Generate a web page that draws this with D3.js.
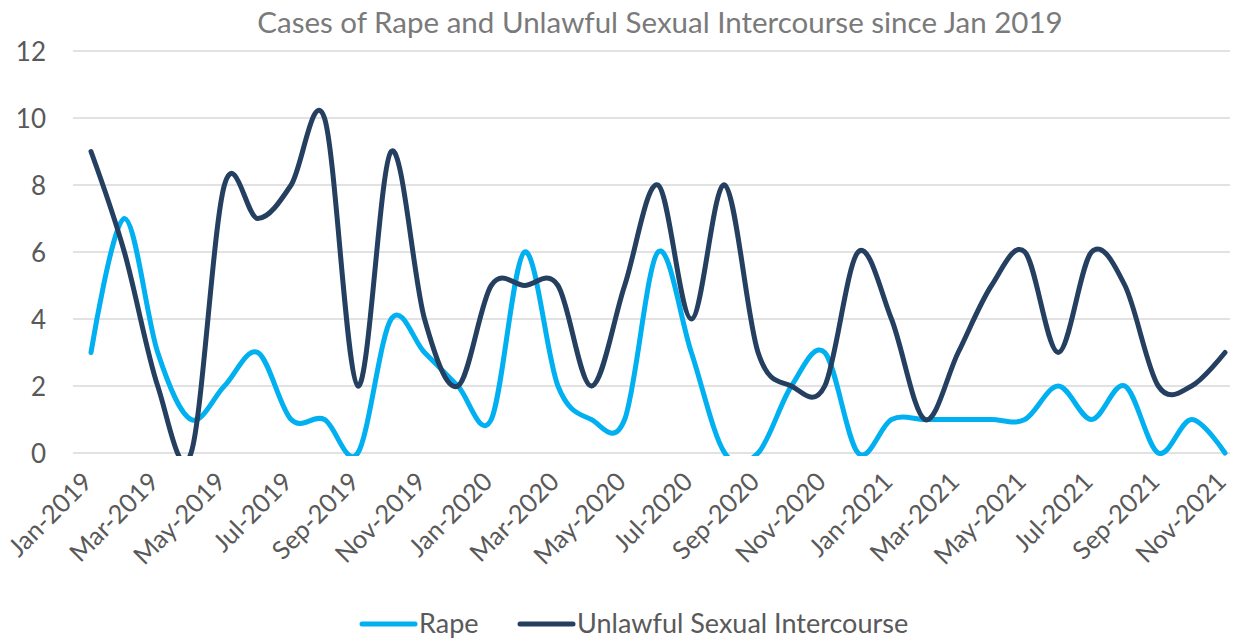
<!DOCTYPE html>
<html>
<head>
<meta charset="utf-8">
<script src="https://cdn.jsdelivr.net/npm/d3@7"></script>
<style>
  html, body { margin: 0; padding: 0; background: #ffffff; }
  svg { display: block; }
</style>
</head>
<body>
<svg id="chart" width="1233" height="639"></svg>
<script>
const months = ["Jan-2019","Feb-2019","Mar-2019","Apr-2019","May-2019","Jun-2019","Jul-2019","Aug-2019","Sep-2019","Oct-2019","Nov-2019","Dec-2019",
  "Jan-2020","Feb-2020","Mar-2020","Apr-2020","May-2020","Jun-2020","Jul-2020","Aug-2020","Sep-2020","Oct-2020","Nov-2020","Dec-2020",
  "Jan-2021","Feb-2021","Mar-2021","Apr-2021","May-2021","Jun-2021","Jul-2021","Aug-2021","Sep-2021","Oct-2021","Nov-2021"];
const rape = [3,7,3,1,2,3,1,1,0,4,3,2, 1,6,2,1,1,6,3,0,0,2,3,0, 1,1,1,1,1,2,1,2,0,1,0];
const usi  = [9,6,2,0,8,7,8,10,2,9,4,2, 5,5,5,2,5,8,4,8,3,2,2,6, 4,1,3,5,6,3,6,5,2,2,3];
const yTicks = [0,2,4,6,8,10,12];
const seriesNames = ["Rape","Unlawful Sexual Intercourse"];
const seriesColors = ["#00b0f0","#243f60"];
const titleText = "Cases of Rape and Unlawful Sexual Intercourse since Jan 2019";

const svg = d3.select("#chart");
const font = "Lato, 'Open Sans', sans-serif";

const x = d3.scalePoint().domain(months).range([91, 1225]);
const y = d3.scaleLinear().domain([0, 12]).range([453, 51]);

// title
svg.append("text")
  .attr("x", 660).attr("y", 33)
  .attr("text-anchor", "middle")
  .attr("font-family", font).attr("font-size", 29.5)
  .attr("fill", "#7a7a7a")
  .text(titleText);

// gridlines
svg.append("g").selectAll("line").data(yTicks).join("line")
  .attr("x1", 73).attr("x2", 1230)
  .attr("y1", d => y(d)).attr("y2", d => y(d))
  .attr("stroke", "#d9d9d9").attr("stroke-width", 1.5);

// y axis
const yAxis = d3.axisLeft(y).tickValues(yTicks).tickSize(0).tickPadding(0).tickFormat(d3.format("d"));
const gy = svg.append("g").attr("transform", "translate(46,0)").call(yAxis);
gy.select(".domain").remove();
gy.selectAll("text").attr("font-family", font).attr("font-size", 26).attr("fill", "#595959").attr("dy", "0.35em");

// x axis
const xAxis = d3.axisBottom(x).tickValues(months.filter((m, i) => i % 2 === 0)).tickSize(0).tickPadding(0);
const gx = svg.append("g").attr("transform", "translate(0,453)").call(xAxis);
gx.select(".domain").remove();
gx.selectAll("text")
  .attr("font-family", font).attr("font-size", 25.5).attr("fill", "#595959")
  .attr("text-anchor", "end")
  .attr("dy", "0.35em")
  .attr("transform", "translate(-4,24) rotate(-45)");

// clip
svg.append("defs").append("clipPath").attr("id", "plotclip")
  .append("rect").attr("x", 60).attr("y", 40).attr("width", 1180).attr("height", 416);

const line = d3.line()
  .x((d, i) => x(months[i]))
  .y(d => y(d))
  .curve(d3.curveCatmullRom.alpha(0));

const g = svg.append("g").attr("clip-path", "url(#plotclip)");
[rape, usi].forEach((s, k) => {
  g.append("path").datum(s)
    .attr("d", line)
    .attr("fill", "none")
    .attr("stroke", seriesColors[k])
    .attr("stroke-width", 5)
    .attr("stroke-linecap", "round")
    .attr("stroke-linejoin", "round");
});

// legend
const legendX = [362, 520];
const lg = svg.append("g");
seriesNames.forEach((n, k) => {
  lg.append("line")
    .attr("x1", legendX[k]).attr("x2", legendX[k] + 53)
    .attr("y1", 624).attr("y2", 624)
    .attr("stroke", seriesColors[k]).attr("stroke-width", 5).attr("stroke-linecap", "round");
  lg.append("text")
    .attr("x", legendX[k] + 57).attr("y", 624)
    .attr("dy", "0.35em")
    .attr("font-family", font).attr("font-size", 27)
    .attr("fill", "#595959")
    .text(n);
});
</script>
</body>
</html>
